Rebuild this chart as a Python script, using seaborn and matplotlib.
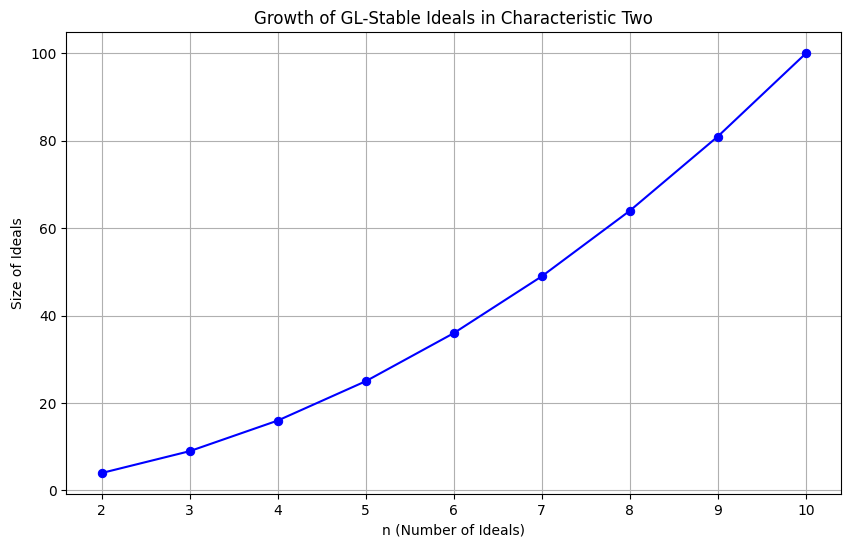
import matplotlib
matplotlib.use("Agg")
import matplotlib.pyplot as plt
import seaborn as sns
import pandas as pd

n_values = [2, 3, 4, 5, 6, 7, 8, 9, 10]
sizes = [4, 9, 16, 25, 36, 49, 64, 81, 100]

df = pd.DataFrame({"n": n_values, "size": sizes})

fig = plt.figure(figsize=(8.5, 5.47), dpi=100)
ax = fig.add_axes([0.0782, 0.0969, 0.9112, 0.8437])
sns.lineplot(data=df, x="n", y="size", ax=ax, color="blue", marker="o",
             markersize=6, markeredgecolor="blue", linewidth=1.5)
ax.set_title("Growth of GL-Stable Ideals in Characteristic Two")
ax.set_xlabel("n (Number of Ideals)")
ax.set_ylabel("Size of Ideals")
ax.set_xticks(n_values)
ax.grid(True)
fig.savefig("out.png", dpi=100)
